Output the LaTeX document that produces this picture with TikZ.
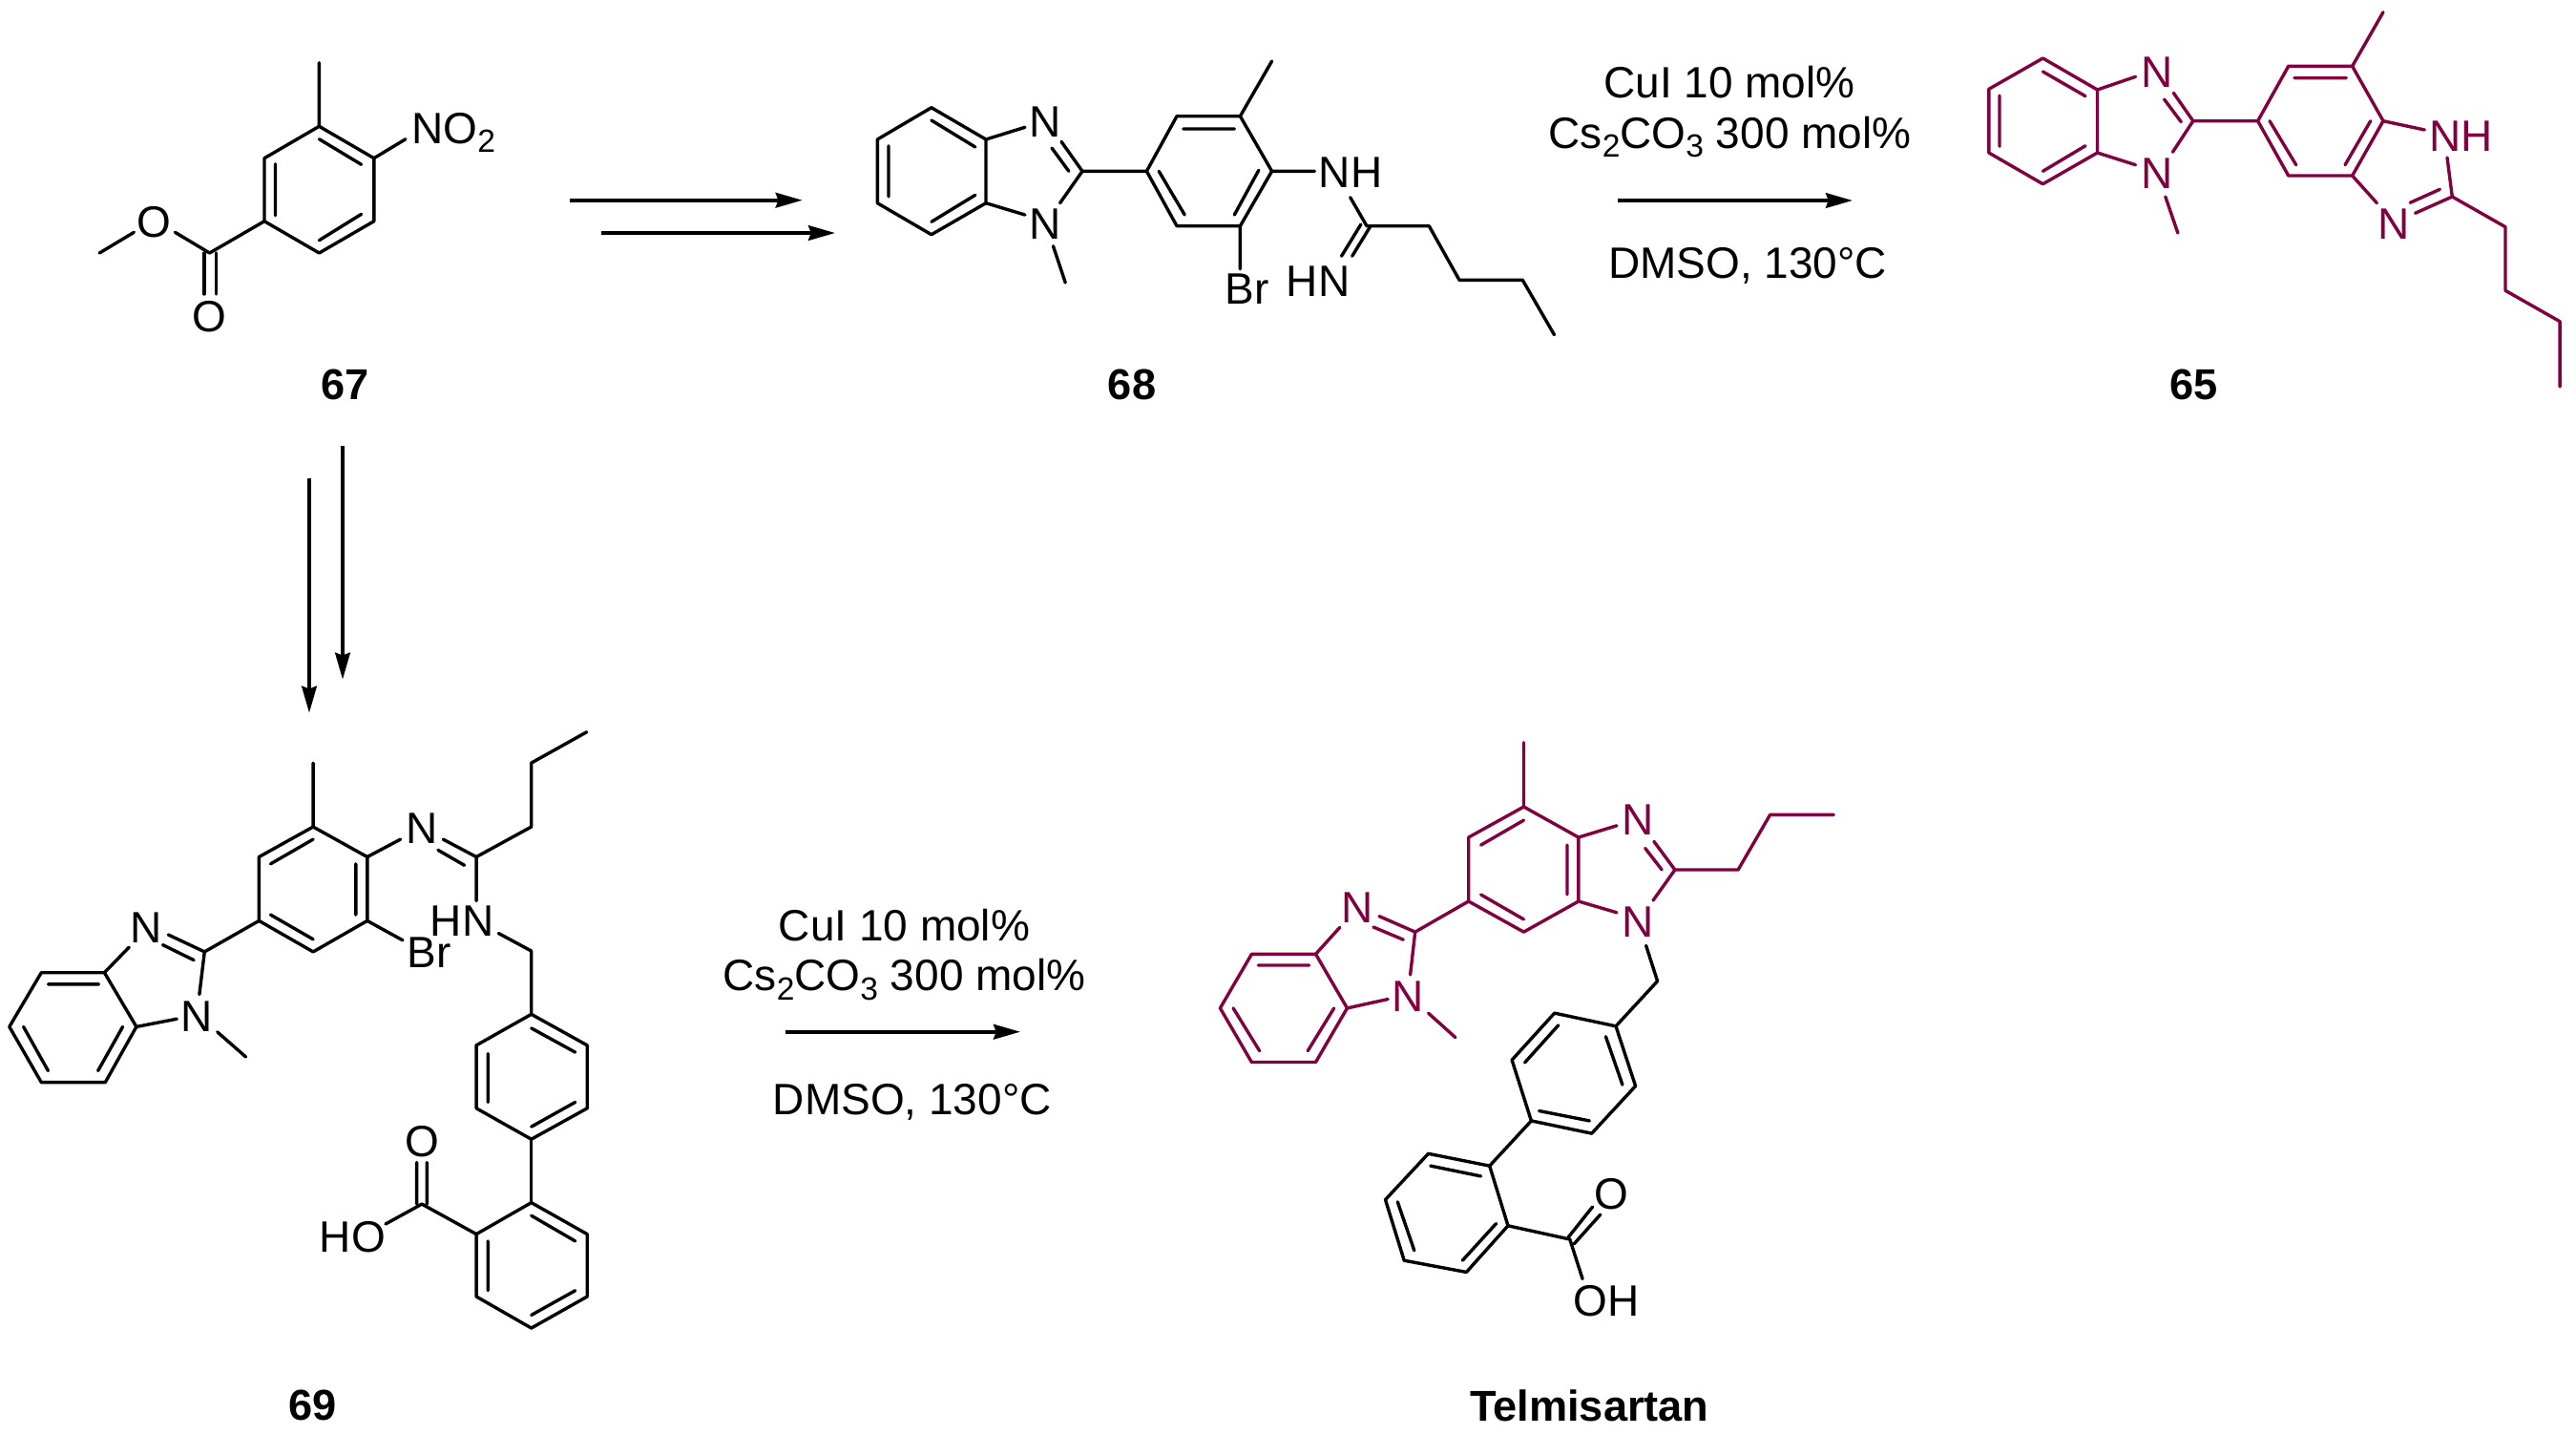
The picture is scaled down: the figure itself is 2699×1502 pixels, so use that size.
\documentclass[tikz,border=0pt]{standalone}
\usepackage{fontspec}
\setmainfont{Liberation Sans}
\usetikzlibrary{arrows.meta}
\definecolor{telmired}{RGB}{128,0,64}
\newcommand{\lowsub}[1]{\raisebox{-2.4pt}{\fontsize{8.4}{10}\selectfont #1}}
\tikzset{
  bond/.style={line width=0.85pt,line join=round,line cap=round},
  redbond/.style={bond,color=telmired},
  rxnarrow/.style={line width=0.95pt,-{Stealth[length=7pt,width=3.9pt,inset=0.7pt]}},
  atomtext/.style={inner sep=0pt,font=\fontsize{11.5}{14}\selectfont},
  redtext/.style={atomtext,text=telmired},
  cpdtext/.style={inner sep=0pt,font=\fontsize{11.3}{14}\selectfont\bfseries},
  condtext/.style={inner sep=0pt,anchor=base,font=\fontsize{11.5}{14}\selectfont}
}
\begin{document}
\begin{tikzpicture}[x=0.25pt,y=0.25pt,yscale=-1,xscale=1]
\useasboundingbox (0,0) rectangle (2699,1502);

%Shape: compound 67
\draw [bond] (334.4,132.3) -- (391.8,165.7) -- (391.8,231.7) -- (334.4,265) -- (277,231.7) -- (277,165.7) -- cycle ;
\draw [bond] (288.5,171.7) -- (288.5,225.7) (334.4,145.7) -- (378.6,172.3) (334.4,251.7) -- (378.6,224.3) ;
\draw [bond] (334.4,132.3) -- (334.4,65.7) (391.8,165.7) -- (425,145.7) ;
\draw [bond] (277,231.7) -- (219.6,265) -- (183.4,243.3) (140.4,243.3) -- (104.2,265) ;
\draw [bond] (213.8,265) -- (213.8,308) (226.5,265) -- (226.5,308) ;
% Text Node
\node [atomtext,anchor=base west] (no2) at (430.5,150) {NO\lowsub{2}};
\node [atomtext] (o67a) at (161.6,232.7) {O};
\node [atomtext] (o67b) at (219,331.7) {O};
\node [cpdtext] (c67) at (361.4,403) {67};

%Straight Lines: steps from 67
\coordinate (topa) at (596.7,209.7);
\coordinate (topb) at (840.7,209.7);
\coordinate (topc) at (630,244);
\coordinate (topd) at (875,244);
\draw [rxnarrow] (topa) -- (topb);
\draw [rxnarrow] (topc) -- (topd);
\coordinate (downa) at (324,501);
\coordinate (downb) at (324,746.7);
\coordinate (downc) at (359,466.7);
\coordinate (downd) at (359,711.7);
\draw [rxnarrow] (downa) -- (downb);
\draw [rxnarrow] (downc) -- (downd);

%Shape: compound 68
\draw [bond] (975.9,112.7) -- (1033,146) -- (1033,212.7) -- (975.9,245.7) -- (919.3,212.7) -- (919.3,146) -- cycle ;
\draw [bond] (975.9,126) -- (1021.8,154) (931,152.7) -- (931,206) (975.9,232.3) -- (1021.8,204.3) ;
\draw [bond] (1033,146) -- (1073.9,133.3) (1033,212.7) -- (1073.9,225) ;
\draw [bond] (1112,148.3) -- (1134,179.3) -- (1110.6,212.7) (1102,155) -- (1119.8,179.3) ;
\draw [bond] (1103.5,257.7) -- (1116.2,296) (1134,179.3) -- (1201.4,179.3) ;
\draw [bond] (1201.4,179.3) -- (1233,121.7) -- (1299.4,121.7) -- (1332.6,179.3) -- (1299.4,236.7) -- (1233,236.7) -- cycle ;
\draw [bond] (1239.7,135) -- (1293.3,135) (1214.2,179.3) -- (1241.2,225) (1318.8,178.3) -- (1293.3,225) ;
\draw [bond] (1299.4,121.7) -- (1332.6,64) (1332.6,179.3) -- (1377.4,179.3) (1299.4,236.7) -- (1299.4,281.7) ;
\draw [bond] (1414.7,206.7) -- (1432,236.7) -- (1497.3,236.7) -- (1529,293.3) -- (1595.3,293.3) -- (1628.5,350.7) ;
\draw [bond] (1425.9,235) -- (1405.5,268.3) (1436,236.7) -- (1416.7,268.3) ;
% Text Node
\node [atomtext] (n68a) at (1095.3,127.3) {N};
\node [atomtext] (n68b) at (1095.3,234.3) {N};
\node [atomtext,anchor=base west] (nh68) at (1381,196) {NH};
\node [atomtext,anchor=base west] (br68) at (1283,318.3) {Br};
\node [atomtext,anchor=base west] (hn68) at (1347,310.7) {HN};
\node [cpdtext] (c68) at (1186,403) {68};

% Text Node: first conditions
\node [condtext] (cui1) at (1812,102.3) {CuI 10 mol\%};
\node [condtext] (cs1) at (1812.5,155) {Cs\lowsub{2}CO\lowsub{3} 300 mol\%};
\node [condtext] (dmso1) at (1831,291.7) {DMSO, 130°C};
\coordinate (ringa) at (1695,210);
\coordinate (ringb) at (1941,210);
\draw [rxnarrow] (ringa) -- (ringb);

%Shape: compound 65
\draw [redbond] (2140.4,61) -- (2197.5,94) -- (2197.5,160) -- (2140.4,192.7) -- (2083.8,160) -- (2083.8,93.3) -- cycle ;
\draw [redbond] (2140.4,75) -- (2185,100.7) (2095,100) -- (2095,153.3) (2140.4,179.3) -- (2185,152.7) ;
\draw [redbond] (2197.5,94) -- (2237.6,80.3) (2197.5,160) -- (2237.6,172.7) ;
\draw [redbond] (2277.3,97.3) -- (2297.8,126.7) -- (2276.4,159.3) (2267.5,104) -- (2285.3,127.7) ;
\draw [redbond] (2268.8,206) -- (2281.8,244) (2297.8,126.7) -- (2365.6,126.7) ;
\draw [redbond] (2365.6,126.7) -- (2397.7,69.3) -- (2464.6,69.3) -- (2497,126.7) -- (2464.6,184) -- (2397.7,184) -- cycle ;
\draw [redbond] (2403.9,81.7) -- (2458.3,81.7) (2378,126.7) -- (2405.7,172.7) (2483.7,126.7) -- (2457,172.7) ;
\draw [redbond] (2464.6,69.3) -- (2497,12.7) (2497,126.7) -- (2540.3,136) (2464.6,184) -- (2490.4,212.7) ;
\draw [redbond] (2564,165) -- (2569.3,206) -- (2530.5,223.3) (2556.4,198.3) -- (2525.2,212.3) ;
\draw [redbond] (2569.3,206) -- (2625,237.7) -- (2625,304.3) -- (2682.1,336.7) -- (2682.1,405) ;
% Text Node
\node [redtext] (n65a) at (2260,76) {N};
\node [redtext] (n65b) at (2260,181.7) {N};
\node [redtext,anchor=base west] (nh65) at (2544.5,158.3) {NH};
\node [redtext] (n65c) at (2508.2,234.3) {N};
\node [cpdtext] (c65) at (2298.7,403) {65};

%Shape: compound 69
\draw [bond] (328.1,866) -- (384.8,897.5) -- (384.8,964.4) -- (328.1,996.9) -- (271.4,964.4) -- (271.4,897.5) -- cycle ;
\draw [bond] (328.1,879.1) -- (283.5,904.8) (372.8,904.8) -- (372.8,958.1) (328.1,983.8) -- (283.5,958.1) ;
\draw [bond] (328.1,866) -- (328.1,799.1) (384.8,897.5) -- (419.6,879.1) (384.8,964.4) -- (421.9,984.8) ;
\draw [bond] (464.3,879.1) -- (499.1,897.5) -- (556.7,866) -- (556.7,799.1) -- (614.7,766.7) ;
\draw [bond] (458.9,890.3) -- (486.6,906.3) (499.1,897.5) -- (499.1,943.6) ;
\draw [bond] (522.3,977.5) -- (556.7,996) -- (556.7,1062.3) ;
\draw [bond] (556.7,1062.3) -- (615.2,1094.8) -- (615.2,1160.8) -- (556.7,1193.2) -- (499.1,1160.8) -- (499.1,1094.8) -- cycle ;
\draw [bond] (556.7,1076.9) -- (602.7,1102.1) (511.2,1103.5) -- (511.2,1154.4) (556.7,1180.1) -- (602.7,1154.4) ;
\draw [bond] (556.7,1193.2) -- (556.7,1259.6) ;
\draw [bond] (556.7,1259.6) -- (615.2,1292.6) -- (615.2,1358) -- (556.7,1391) -- (499.1,1358) -- (499.1,1292.6) -- cycle ;
\draw [bond] (556.7,1273.2) -- (602.7,1299.9) (511.2,1299.9) -- (511.2,1351.7) (556.7,1377.4) -- (602.7,1351.7) ;
\draw [bond] (499.1,1292.6) -- (442,1261.1) -- (404,1282) (436.6,1217.5) -- (436.6,1261) (447.3,1217.5) -- (447.3,1261) ;
\draw [bond] (271.4,964.4) -- (214.3,996.9) -- (208.9,1041.5) (214.3,996.9) -- (176.3,979) (203.1,1005.6) -- (170.5,989.6) ;
\draw [bond] (109.4,1018.7) -- (142.9,1075.4) -- (110.3,1133.6) -- (43.3,1133.6) -- (9.8,1075.4) -- (43.3,1018.7) -- cycle ;
\draw [bond] (109.4,1018.7) -- (135.3,992) (142.9,1075.4) -- (185.3,1067.2) ;
\draw [bond] (50.4,1030.8) -- (103.6,1030.8) (24.6,1075.4) -- (50.4,1121.5) (128.6,1075.4) -- (102.7,1121.5) ;
\draw [bond] (227.7,1080.8) -- (257.6,1107) ;
% Text Node
\node [atomtext] (n69a) at (442,867.5) {N};
\node [atomtext,anchor=base west] (hn69) at (450,980.9) {HN};
\node [atomtext,anchor=base west] (br69) at (426,1013.9) {Br};
\node [atomtext] (n69b) at (153.1,971.7) {N};
\node [atomtext] (n69c) at (206.3,1064.8) {N};
\node [atomtext] (o69) at (442,1195.6) {O};
\node [atomtext,anchor=base west] (ho69) at (334,1311) {HO};
\node [cpdtext] (c69) at (327.2,1472) {69};

% Text Node: second conditions
\node [condtext] (cui2) at (947.5,985) {CuI 10 mol\%};
\node [condtext] (cs2) at (947.5,1037.7) {Cs\lowsub{2}CO\lowsub{3} 300 mol\%};
\node [condtext] (dmso2) at (955.8,1167.7) {DMSO, 130°C};
\coordinate (lowa) at (822.7,1080.7);
\coordinate (lowb) at (1069,1080.7);
\draw [rxnarrow] (lowa) -- (lowb);

%Shape: telmisartan
\draw [redbond] (1596.5,845) -- (1653.9,877) -- (1653.9,944) -- (1596.5,976.1) -- (1538.7,944) -- (1538.7,877) -- cycle ;
\draw [redbond] (1596.5,859.1) -- (1551.6,885.1) (1642,885.1) -- (1642,937) (1596.5,962.9) -- (1551.6,937) ;
\draw [redbond] (1596.5,845) -- (1596.5,777.9) (1653.9,877) -- (1693.9,864.8) (1653.9,944) -- (1693.9,955.8) ;
\draw [redbond] (1732.9,881.3) -- (1754.9,911) -- (1732,943.1) (1723.7,888.4) -- (1741.2,911) ;
\draw [redbond] (1754.9,911) -- (1821.1,911) -- (1854.6,853.4) -- (1921.2,853.4) ;
\draw [redbond] (1538.7,944) -- (1482.7,976.1) -- (1477.6,1021) (1482.7,976.1) -- (1445,959.6) (1470.3,984.2) -- (1439,971) ;
\draw [redbond] (1378.5,999.3) -- (1411.5,1055.9) -- (1378.5,1112.5) -- (1311.4,1112.5) -- (1278.4,1055.9) -- (1311.4,999.3) -- cycle ;
\draw [redbond] (1378.5,999.3) -- (1403.7,971.4) (1411.5,1055.9) -- (1454.2,1046.5) ;
\draw [redbond] (1318.3,1011) -- (1371.6,1011) (1292.1,1055.9) -- (1319.7,1100.7) (1397.7,1055.9) -- (1370.2,1100.7) ;
\draw [redbond] (1496.5,1061.1) -- (1524.9,1086.6) ;
\draw [bond] (1724.6,990.3) -- (1736.6,1027.6) -- (1693,1074.8) ;
\draw [bond] (1693,1074.8) -- (1628.7,1061.1) -- (1584.1,1110.2) -- (1604.4,1173.9) -- (1667.7,1187.1) -- (1713.6,1137.5) -- cycle ;
\draw [bond] (1682.4,1085.6) -- (1699.9,1136.1) (1632.8,1073.8) -- (1597.5,1113) (1665.4,1173.9) -- (1612.6,1163.5) ;
\draw [bond] (1604.4,1173.9) -- (1560.7,1221.1) ;
\draw [bond] (1560.7,1221.1) -- (1496.5,1208.3) -- (1451.5,1256.5) -- (1471.2,1320.2) -- (1536.4,1332.4) -- (1580,1283.8) -- cycle ;
\draw [bond] (1551.6,1231.9) -- (1498.8,1221.1) (1464.3,1258.8) -- (1481.8,1309.8) (1567.6,1281.5) -- (1532.3,1320.2) ;
\draw [bond] (1580,1283.8) -- (1644.8,1298) -- (1658.1,1339.5) ;
\draw [bond] (1643.4,1295.6) -- (1668.6,1264) (1649.3,1302.7) -- (1676.9,1272) ;
% Text Node
\node [redtext] (n70a) at (1715.9,859.1) {N};
\node [redtext] (n70b) at (1715.9,965.3) {N};
\node [redtext] (n70c) at (1421.6,951.1) {N};
\node [redtext] (n70d) at (1475.3,1043.2) {N};
\node [atomtext] (o70) at (1688.4,1250.8) {O};
\node [atomtext,anchor=base west] (oh70) at (1647.4,1378.5) {OH};
\node [cpdtext] (ctel) at (1665.4,1472.6) {Telmisartan};

\end{tikzpicture}
\end{document}
